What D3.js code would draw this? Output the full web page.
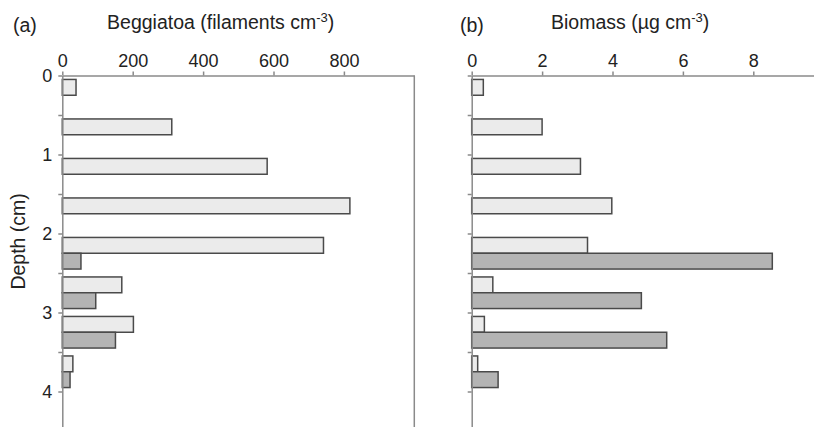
<!DOCTYPE html>
<html>
<head>
<meta charset="utf-8">
<script src="https://cdn.jsdelivr.net/npm/d3@7"></script>
<style>
  body { margin: 0; background: #fff; }
  svg { display: block; font-family: "Liberation Sans", Arial, sans-serif; }
  .axis path, .axis line { stroke: #8a8a8a; stroke-width: 1.5; }
  .axis text { fill: #222; font-size: 18px; }
</style>
</head>
<body>
<div id="chart"></div>
<script>
// depth slots (top of each 0.5 cm layer)
var depths = [0, 0.5, 1, 1.5, 2, 2.5, 3, 3.5];
var keys = ["light", "dark"];

// (a) Beggiatoa, filaments per cm3
var beggLight = [39, 311, 582, 817, 742, 169, 202, 30];
var beggDark  = [null, null, null, null, 53, 95, 151, 22];

// (b) biomass, ug per cm3
var bioLight = [0.33, 2.0, 3.09, 3.98, 3.29, 0.60, 0.36, 0.17];
var bioDark  = [null, null, null, null, 8.54, 4.82, 5.54, 0.75];

var beggTicks = [0, 200, 400, 600, 800];
var bioTicks = [0, 2, 4, 6, 8];
var depthTicks = [0, 0.5, 1, 1.5, 2, 2.5, 3, 3.5, 4];

var colors = { light: "#ebebeb", dark: "#b4b4b4" };

var W = 814, H = 427;
var svg = d3.select("#chart").append("svg")
    .attr("width", W).attr("height", H);

var y = d3.scaleLinear().domain([0, 4.5]).range([75.5, 431]);
var slot = y(0.5) - y(0);
var yInner = d3.scaleBand().domain(keys).range([0, slot]).paddingOuter(0.25);

function drawPanel(left, max, ticks, lightVals, darkVals, title, letter, letterX, showDepthLabels) {
    var x = d3.scaleLinear().domain([0, max]).range([left, left + 352]);
    var g = svg.append("g");

    var rows = depths.map(function(d, i) {
        return { depth: d, light: lightVals[i], dark: darkVals[i] };
    });

    g.append("g")
      .selectAll("g")
      .data(rows)
      .join("g")
        .attr("transform", function(d) { return "translate(0," + y(d.depth) + ")"; })
      .selectAll("rect")
      .data(function(d) {
          return keys.map(function(key) { return { key: key, value: d[key] }; })
              .filter(function(k) { return k.value != null; });
      })
      .join("rect")
        .attr("x", x(0))
        .attr("y", function(d) { return yInner(d.key); })
        .attr("width", function(d) { return x(d.value) - x(0); })
        .attr("height", yInner.bandwidth())
        .attr("fill", function(d) { return colors[d.key]; })
        .attr("stroke", "#4a4a4a")
        .attr("stroke-width", 1.5);

    // top axis
    g.append("g")
        .attr("class", "axis")
        .attr("transform", "translate(0," + y(0) + ")")
        .call(d3.axisTop(x).tickValues(ticks).tickSize(4).tickSizeOuter(0).tickPadding(5));

    // left depth axis
    g.append("g")
        .attr("class", "axis")
        .attr("transform", "translate(" + x(0) + ",0)")
        .call(d3.axisLeft(y).tickValues(depthTicks).tickSize(4).tickSizeOuter(0).tickPadding(6)
            .tickFormat(function(d) { return (showDepthLabels && d % 1 === 0) ? d : ""; }));

    // right frame line
    g.append("line")
        .attr("x1", x(max)).attr("x2", x(max))
        .attr("y1", y(0)).attr("y2", y(4.5))
        .attr("stroke", "#8a8a8a").attr("stroke-width", 1.5);

    var t = svg.append("text")
        .attr("x", x(max * 0.45))
        .attr("y", 29)
        .attr("text-anchor", "middle")
        .style("font-size", "19.5px")
        .attr("fill", "#222")
        .text(title);
    t.append("tspan").attr("dy", -7).style("font-size", "13px").text("-3");
    t.append("tspan").attr("dy", 7).text(")");

    svg.append("text")
        .attr("x", letterX)
        .attr("y", 32)
        .style("font-size", "19.5px")
        .attr("fill", "#222")
        .text(letter);
}

drawPanel(62.3, 1000, beggTicks, beggLight, beggDark, "Beggiatoa (filaments cm", "(a)", 13, true);
drawPanel(471.7, 10, bioTicks, bioLight, bioDark, "Biomass (\u00b5g cm", "(b)", 460, false);

svg.append("text")
    .attr("transform", "translate(25," + y(2.1) + ") rotate(-90)")
    .attr("text-anchor", "middle")
    .style("font-size", "19.5px")
    .attr("fill", "#222")
    .text("Depth (cm)");
</script>
</body>
</html>
